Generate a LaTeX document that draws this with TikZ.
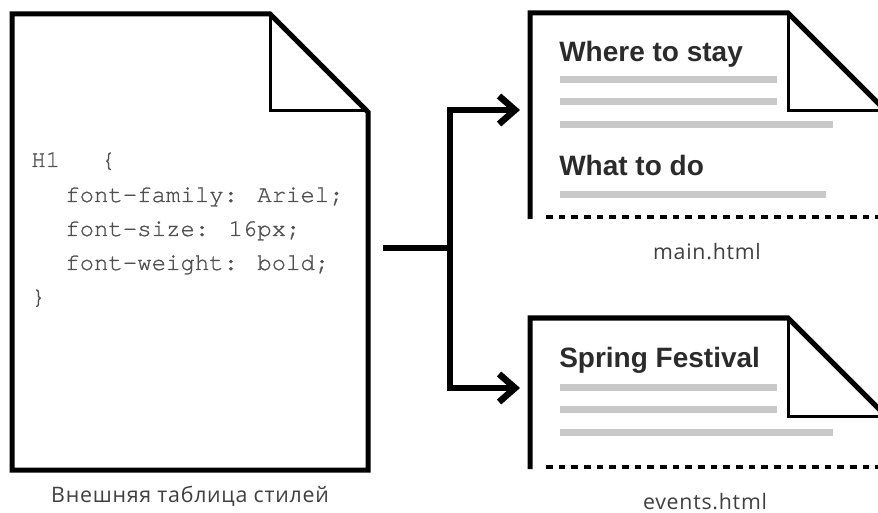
\documentclass[tikz,border=0pt]{standalone}
\usepackage{fontspec}
\setmainfont{Liberation Sans}
\newfontfamily\codefont[FakeBold=0.9]{TeX Gyre Cursor}
\newfontfamily\capfont[LetterSpace=3.5]{Open Sans}
\usetikzlibrary{arrows.meta}
\definecolor{barfill}{HTML}{C8C8C8}
\definecolor{codegray}{HTML}{505050}
\definecolor{headgray}{HTML}{2B2B2B}
\definecolor{capgray}{HTML}{404040}
\begin{document}
\begin{tikzpicture}[x=0.75pt,y=-0.75pt,
  docline/.style={line width=3.75pt, line join=miter},
  foldline/.style={line width=2.25pt},
  dashline/.style={line width=3pt, dash pattern=on 5pt off 4.5pt},
  barline/.style={barfill, line width=5.25pt},
  conn/.style={line width=4.9pt, line join=miter},
  arrowconn/.style={conn, -{Straight Barb[length=12pt,width=21pt]}},
  codetext/.style={font=\codefont\fontsize{18pt}{20pt}\selectfont, text=codegray, inner sep=0pt, anchor=base west},
  headtext/.style={font=\bfseries\fontsize{21pt}{24pt}\selectfont, text=headgray, inner sep=0pt, anchor=base west},
  captext/.style={font=\capfont\fontsize{16pt}{19pt}\selectfont, text=capgray, inner sep=0pt, anchor=base}]
\useasboundingbox (0,0) rectangle (878,513);
\fill[white] (0,0) rectangle (878,513);
\begin{scope}
\clip (0,0) rectangle (878,513);
% ---------- left document (style sheet)
\draw[docline] (12,14) -- (270,14) -- (368,112) -- (368,470) -- (12,470) -- cycle;
\draw[foldline] (270,14) -- (270,111) -- (368,111);
\node[codetext] (c1) at (31,167) {H1};
\node[codetext] (c1b) at (101,167) {\{};
\node[codetext] (c2) at (65,202) {font-family: Ariel;};
\node[codetext] (c3) at (65,236) {font-size: 16px;};
\node[codetext] (c4) at (65,270) {font-weight: bold;};
\node[codetext] (c5) at (31,304) {\}};
\node[captext] (capcss) at (190,502) {Внешняя таблица стилей};
% ---------- main.html
\draw[docline] (530,219) -- (530,13) -- (788,13) -- (890,115);
\draw[foldline] (788,13) -- (788,111) -- (882,111);
\draw[dashline] (546,217) -- (880,217);
\node[headtext] (h1) at (559,62) {Where to stay};
\draw[barline] (560,80) -- (777,80);
\draw[barline] (560,102) -- (777,102);
\draw[barline] (560,125) -- (833,125);
\node[headtext] (h2) at (559,176) {What to do};
\draw[barline] (560,195) -- (826,195);
\node[captext] (capmain) at (707,260) {main.html};
% ---------- events.html
\draw[docline] (530,469) -- (530,318) -- (788,318) -- (890,420);
\draw[foldline] (788,318) -- (788,416) -- (882,416);
\draw[dashline] (546,467) -- (880,467);
\node[headtext] (h3) at (559,367) {Spring Festival};
\draw[barline] (560,387) -- (777,387);
\draw[barline] (560,409) -- (777,409);
\draw[barline] (560,432) -- (833,432);
\node[captext] (capevents) at (705,509) {events.html};
% ---------- connectors
\coordinate (out) at (383,248);
\coordinate (fork) at (450,248);
\coordinate (mainin) at (520,110);
\coordinate (eventsin) at (520,388);
\draw[conn] (out) -- (fork);
\draw[arrowconn] (fork) |- (mainin);
\draw[arrowconn] (fork) |- (eventsin);
\end{scope}
\end{tikzpicture}
\end{document}
